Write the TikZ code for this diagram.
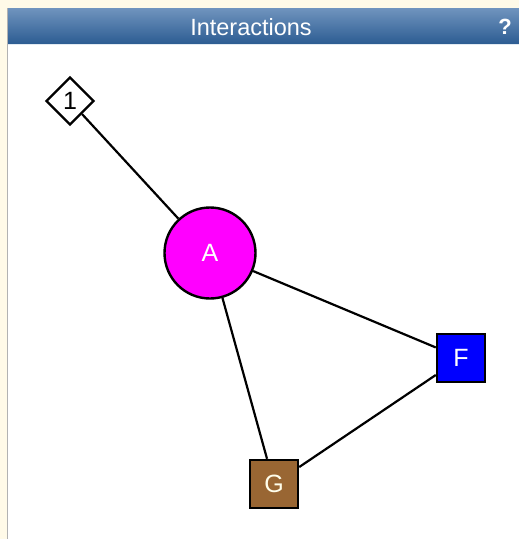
\documentclass[tikz,border=0pt]{standalone}
\usepackage{fontspec}
\setmainfont{Liberation Sans}
\usetikzlibrary{shapes.geometric}
\definecolor{cream}{HTML}{FFFAE8}
\definecolor{hdrtop}{HTML}{7094BE}
\definecolor{hdrbot}{HTML}{2C5C92}
\definecolor{brownG}{HTML}{996633}
\definecolor{magA}{RGB}{255,0,255}
\definecolor{blueF}{RGB}{0,0,255}
\begin{document}
\begin{tikzpicture}[x=1pt,y=-1pt,
  edge/.style={draw=black,line width=2.2pt},
  lbl/.style={font=\fontsize{25}{25}\selectfont},
  sq/.style={draw=black,line width=2.4pt,minimum size=48pt,inner sep=0pt,text=white,lbl}]
\useasboundingbox (0,0) rectangle (519,539);
\fill[cream] (0,0) rectangle (519,539);
\fill[white] (8,8) rectangle (519,539);
\draw[gray!60,line width=1.5pt] (7.5,8) -- (7.5,539);
\shade[top color=hdrtop,bottom color=hdrbot] (8,8) rectangle (519,44);
\draw[white!80!hdrtop,line width=1pt] (8,44.5) -- (519,44.5);
\node[text=white,font=\fontsize{23.5}{23.5}\selectfont] (title) at (251,27) {Interactions};
\node[text=white,font=\bfseries\fontsize{22}{22}\selectfont] (help) at (505,27) {?};
% nodes
\node[diamond,draw=black,line width=2.2pt,fill=white,minimum width=48pt,minimum height=48pt,inner sep=0pt,lbl] (n1) at (70,101) {1};
\node[circle,draw=black,line width=2.4pt,fill=magA,minimum size=91pt,inner sep=0pt,text=white,lbl] (A) at (210,253) {A};
\node[sq,fill=blueF] (F) at (461,358) {F};
\node[sq,fill=brownG,text=white!92!yellow] (G) at (274,484) {G};
% edges
\draw[edge] (n1) -- (A);
\draw[edge] (A) -- (F);
\draw[edge] (A) -- (G);
\draw[edge] (F) -- (G);
\end{tikzpicture}
\end{document}
